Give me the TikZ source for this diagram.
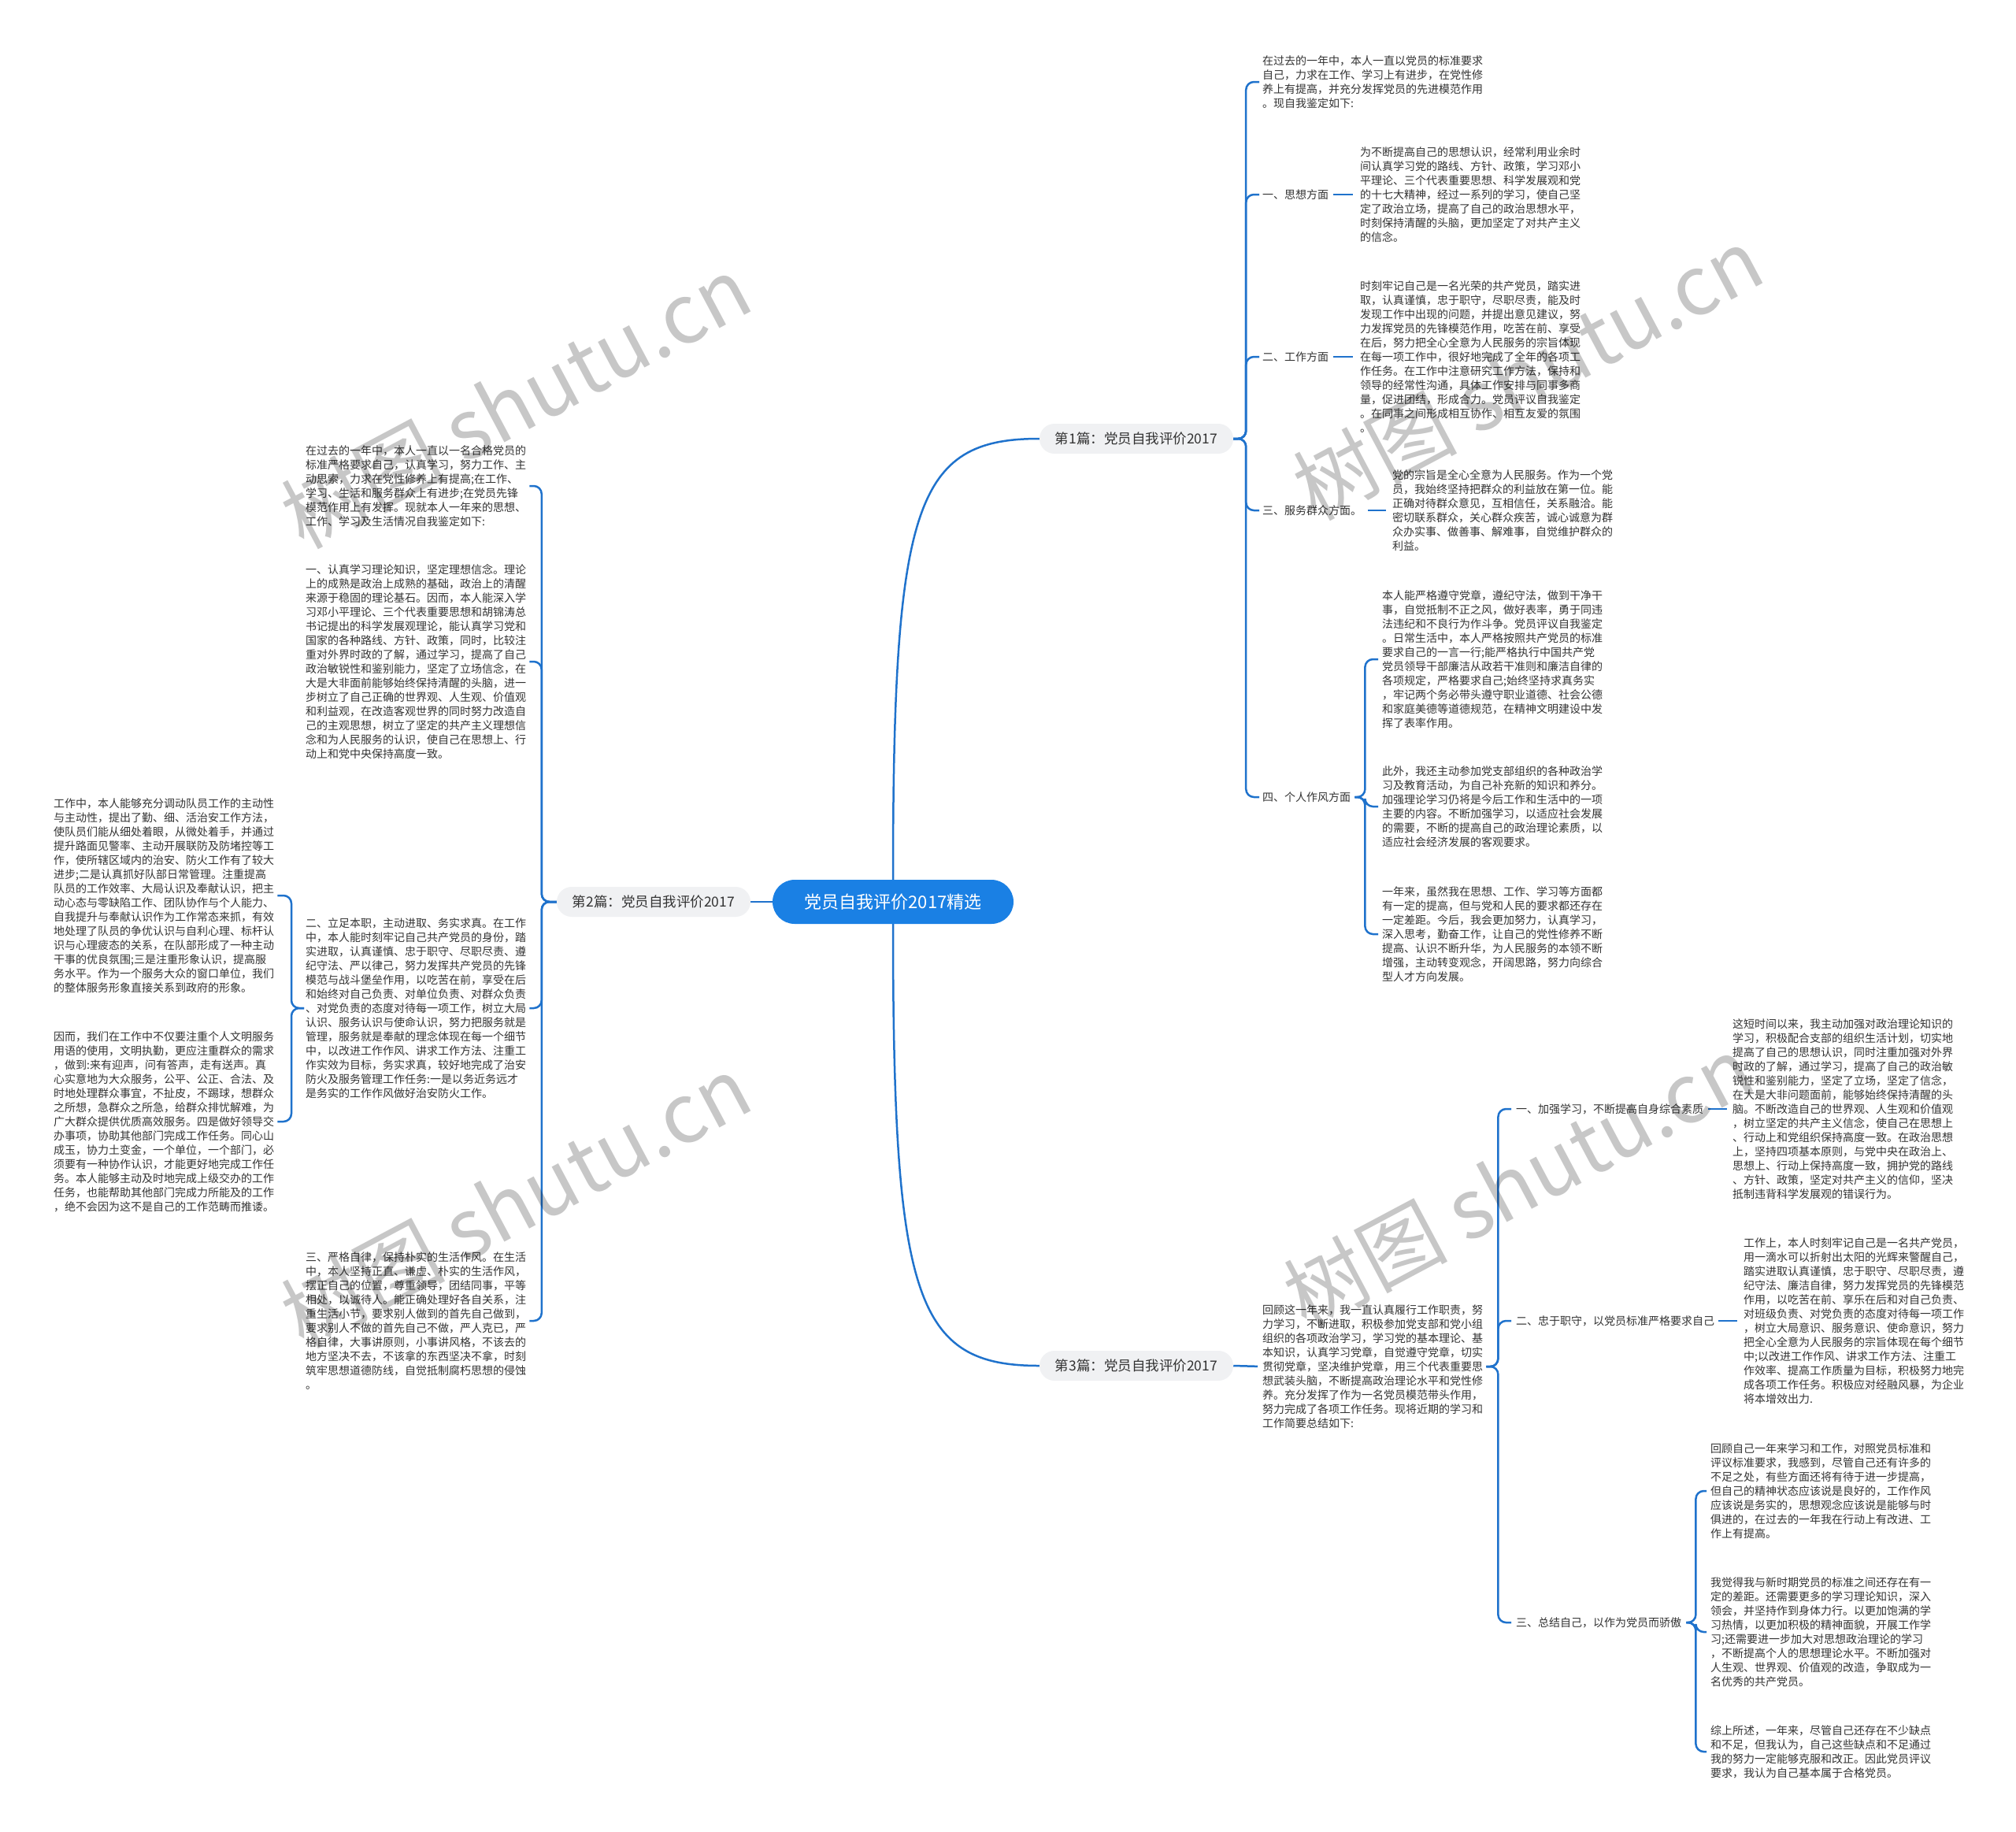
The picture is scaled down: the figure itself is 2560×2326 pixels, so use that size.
\documentclass[tikz,border=0pt]{standalone}
\usepackage{fontspec}
\setmainfont{Noto Sans CJK SC}
\usetikzlibrary{backgrounds}
\definecolor{linkblue}{HTML}{1F72CC}
\definecolor{mainblue}{HTML}{1A80E4}
\definecolor{txtgray}{HTML}{333333}
\definecolor{pillgray}{HTML}{F0F1F3}
\newcommand{\bodyfont}{\fontsize{14}{18}\selectfont}
\tikzset{
  mainnode/.style={fill=mainblue, text=white, rounded corners=28pt, minimum width=306pt, minimum height=56pt, inner sep=0pt, font=\fontsize{22}{26}\selectfont},
  pill/.style={fill=pillgray, text=txtgray, rounded corners=19pt, minimum height=38pt, inner xsep=20pt, inner ysep=0pt, font=\fontsize{17.5}{20}\selectfont},
  txt/.style={anchor=west, align=left, inner sep=0pt, text=txtgray, font=\bodyfont},
  lbl/.style={anchor=west, inner sep=0pt, text=txtgray, font=\bodyfont},
  conn/.style={draw=linkblue, line width=2.5pt, rounded corners=10pt},
  wmark/.style={text=black, opacity=0.22, rotate=28, font=\fontsize{104}{104}\selectfont}
}
\begin{document}
\begin{tikzpicture}[x=1pt,y=-1pt]
\useasboundingbox (0,0) rectangle (2560,2326);

% main and branch nodes
\node[mainnode] (c) at (1134,1145) {党员自我评价2017精选};
\node[pill] (b1) at (1443,557) {第1篇：党员自我评价2017};
\node[pill] (b2) at (830,1145) {第2篇：党员自我评价2017};
\node[pill] (b3) at (1443,1734) {第3篇：党员自我评价2017};

% ---------- branch 1 ----------
\node[txt] (t1i) at (1603,104) {在过去的一年中，本人一直以党员的标准要求\\自己，力求在工作、学习上有进步，在党性修\\养上有提高，并充分发挥党员的先进模范作用\\。现自我鉴定如下:};
\node[lbl] (l11) at (1603,247) {一、思想方面};
\node[txt] (t11) at (1727,247) {为不断提高自己的思想认识，经常利用业余时\\间认真学习党的路线、方针、政策，学习邓小\\平理论、三个代表重要思想、科学发展观和党\\的十七大精神，经过一系列的学习，使自己坚\\定了政治立场，提高了自己的政治思想水平，\\时刻保持清醒的头脑，更加坚定了对共产主义\\的信念。};
\node[lbl] (l12) at (1603,453) {二、工作方面};
\node[txt] (t12) at (1727,453) {时刻牢记自己是一名光荣的共产党员，踏实进\\取，认真谨慎，忠于职守，尽职尽责，能及时\\发现工作中出现的问题，并提出意见建议，努\\力发挥党员的先锋模范作用，吃苦在前、享受\\在后，努力把全心全意为人民服务的宗旨体现\\在每一项工作中，很好地完成了全年的各项工\\作任务。在工作中注意研究工作方法，保持和\\领导的经常性沟通，具体工作安排与同事多商\\量，促进团结，形成合力。党员评议自我鉴定\\。在同事之间形成相互协作、相互友爱的氛围\\。};
\node[lbl] (l13) at (1603,648) {三、服务群众方面。};
\node[txt] (t13) at (1768,648) {党的宗旨是全心全意为人民服务。作为一个党\\员，我始终坚持把群众的利益放在第一位。能\\正确对待群众意见，互相信任，关系融洽。能\\密切联系群众，关心群众疾苦，诚心诚意为群\\众办实事、做善事、解难事，自觉维护群众的\\利益。};
\node[lbl] (l14) at (1603,1012) {四、个人作风方面};
\node[txt] (t14a) at (1755,837) {本人能严格遵守党章，遵纪守法，做到干净干\\事，自觉抵制不正之风，做好表率，勇于同违\\法违纪和不良行为作斗争。党员评议自我鉴定\\。日常生活中，本人严格按照共产党员的标准\\要求自己的一言一行;能严格执行中国共产党\\党员领导干部廉洁从政若干准则和廉洁自律的\\各项规定，严格要求自己;始终坚持求真务实\\，牢记两个务必带头遵守职业道德、社会公德\\和家庭美德等道德规范，在精神文明建设中发\\挥了表率作用。};
\node[txt] (t14b) at (1755,1024) {此外，我还主动参加党支部组织的各种政治学\\习及教育活动，为自己补充新的知识和养分。\\加强理论学习仍将是今后工作和生活中的一项\\主要的内容。不断加强学习，以适应社会发展\\的需要，不断的提高自己的政治理论素质，以\\适应社会经济发展的客观要求。};
\node[txt] (t14c) at (1755,1186) {一年来，虽然我在思想、工作、学习等方面都\\有一定的提高，但与党和人民的要求都还存在\\一定差距。今后，我会更加努力，认真学习，\\深入思考，勤奋工作，让自己的党性修养不断\\提高、认识不断升华，为人民服务的本领不断\\增强，主动转变观念，开阔思路，努力向综合\\型人才方向发展。};

% ---------- branch 2 ----------
\node[txt] (t2a) at (388,617) {在过去的一年中，本人一直以一名合格党员的\\标准严格要求自己，认真学习，努力工作、主\\动思索，力求在党性修养上有提高;在工作、\\学习、生活和服务群众上有进步;在党员先锋\\模范作用上有发挥。现就本人一年来的思想、\\工作、学习及生活情况自我鉴定如下:};
\node[txt] (t2b) at (388,840) {一、认真学习理论知识，坚定理想信念。理论\\上的成熟是政治上成熟的基础，政治上的清醒\\来源于稳固的理论基石。因而，本人能深入学\\习邓小平理论、三个代表重要思想和胡锦涛总\\书记提出的科学发展观理论，能认真学习党和\\国家的各种路线、方针、政策，同时，比较注\\重对外界时政的了解，通过学习，提高了自己\\政治敏锐性和鉴别能力，坚定了立场信念，在\\大是大非面前能够始终保持清醒的头脑，进一\\步树立了自己正确的世界观、人生观、价值观\\和利益观，在改造客观世界的同时努力改造自\\己的主观思想，树立了坚定的共产主义理想信\\念和为人民服务的认识，使自己在思想上、行\\动上和党中央保持高度一致。};
\node[txt] (t2c) at (388,1280) {二、立足本职，主动进取、务实求真。在工作\\中，本人能时刻牢记自己共产党员的身份，踏\\实进取，认真谨慎、忠于职守、尽职尽责、遵\\纪守法、严以律己，努力发挥共产党员的先锋\\模范与战斗堡垒作用，以吃苦在前，享受在后\\和始终对自己负责、对单位负责、对群众负责\\、对党负责的态度对待每一项工作，树立大局\\认识、服务认识与使命认识，努力把服务就是\\管理，服务就是奉献的理念体现在每一个细节\\中，以改进工作作风、讲求工作方法、注重工\\作实效为目标，务实求真，较好地完成了治安\\防火及服务管理工作任务:一是以务近务远才\\是务实的工作作风做好治安防火工作。};
\node[txt] (t2d) at (388,1677) {三、严格自律，保持朴实的生活作风。在生活\\中，本人坚持正直、谦虚、朴实的生活作风，\\摆正自己的位置，尊重领导，团结同事，平等\\相处，以诚待人。能正确处理好各自关系，注\\重生活小节，要求别人做到的首先自己做到，\\要求别人不做的首先自己不做，严人克已，严\\格自律，大事讲原则，小事讲风格，不该去的\\地方坚决不去，不该拿的东西坚决不拿，时刻\\筑牢思想道德防线，自觉抵制腐朽思想的侵蚀\\。};
\node[txt] (f1) at (68,1137) {工作中，本人能够充分调动队员工作的主动性\\与主动性，提出了勤、细、活治安工作方法，\\使队员们能从细处着眼，从微处着手，并通过\\提升路面见警率、主动开展联防及防堵控等工\\作，使所辖区域内的治安、防火工作有了较大\\进步;二是认真抓好队部日常管理。注重提高\\队员的工作效率、大局认识及奉献认识，把主\\动心态与零缺陷工作、团队协作与个人能力、\\自我提升与奉献认识作为工作常态来抓，有效\\地处理了队员的争优认识与自利心理、标杆认\\识与心理疲态的关系，在队部形成了一种主动\\干事的优良氛围;三是注重形象认识，提高服\\务水平。作为一个服务大众的窗口单位，我们\\的整体服务形象直接关系到政府的形象。};
\node[txt] (f2) at (68,1424) {因而，我们在工作中不仅要注重个人文明服务\\用语的使用，文明执勤，更应注重群众的需求\\，做到:来有迎声，问有答声，走有送声。真\\心实意地为大众服务，公平、公正、合法、及\\时地处理群众事宜，不扯皮，不踢球，想群众\\之所想，急群众之所急，给群众排忧解难，为\\广大群众提供优质高效服务。四是做好领导交\\办事项，协助其他部门完成工作任务。同心山\\成玉，协力土变金，一个单位，一个部门，必\\须要有一种协作认识，才能更好地完成工作任\\务。本人能够主动及时地完成上级交办的工作\\任务，也能帮助其他部门完成力所能及的工作\\，绝不会因为这不是自己的工作范畴而推诿。};

% ---------- branch 3 ----------
\node[txt] (t3i) at (1603,1735) {回顾这一年来，我一直认真履行工作职责，努\\力学习，不断进取，积极参加党支部和党小组\\组织的各项政治学习，学习党的基本理论、基\\本知识，认真学习党章，自觉遵守党章，切实\\贯彻党章，坚决维护党章，用三个代表重要思\\想武装头脑，不断提高政治理论水平和党性修\\养。充分发挥了作为一名党员模范带头作用，\\努力完成了各项工作任务。现将近期的学习和\\工作简要总结如下:};
\node[lbl] (l31) at (1925,1408) {一、加强学习，不断提高自身综合素质};
\node[txt] (t31) at (2200,1408) {这短时间以来，我主动加强对政治理论知识的\\学习，积极配合支部的组织生活计划，切实地\\提高了自己的思想认识，同时注重加强对外界\\时政的了解，通过学习，提高了自己的政治敏\\锐性和鉴别能力，坚定了立场，坚定了信念，\\在大是大非问题面前，能够始终保持清醒的头\\脑。不断改造自己的世界观、人生观和价值观\\，树立坚定的共产主义信念，使自己在思想上\\、行动上和党组织保持高度一致。在政治思想\\上，坚持四项基本原则，与党中央在政治上、\\思想上、行动上保持高度一致，拥护党的路线\\、方针、政策，坚定对共产主义的信仰，坚决\\抵制违背科学发展观的错误行为。};
\node[lbl] (l32) at (1925,1677) {二、忠于职守，以党员标准严格要求自己};
\node[txt] (t32) at (2214,1677) {工作上，本人时刻牢记自己是一名共产党员，\\用一滴水可以折射出太阳的光辉来警醒自己，\\踏实进取认真谨慎，忠于职守、尽职尽责，遵\\纪守法、廉洁自律，努力发挥党员的先锋模范\\作用，以吃苦在前、享乐在后和对自己负责、\\对班级负责、对党负责的态度对待每一项工作\\，树立大局意识、服务意识、使命意识，努力\\把全心全意为人民服务的宗旨体现在每个细节\\中;以改进工作作风、讲求工作方法、注重工\\作效率、提高工作质量为目标，积极努力地完\\成各项工作任务。积极应对经融风暴，为企业\\将本增效出力.};
\node[lbl] (l33) at (1925,2060) {三、总结自己，以作为党员而骄傲};
\node[txt] (t33a) at (2172,1893) {回顾自己一年来学习和工作，对照党员标准和\\评议标准要求，我感到，尽管自己还有许多的\\不足之处，有些方面还将有待于进一步提高，\\但自己的精神状态应该说是良好的，工作作风\\应该说是务实的，思想观念应该说是能够与时\\俱进的，在过去的一年我在行动上有改进、工\\作上有提高。};
\node[txt] (t33b) at (2172,2072) {我觉得我与新时期党员的标准之间还存在有一\\定的差距。还需要更多的学习理论知识，深入\\领会，并坚持作到身体力行。以更加饱满的学\\习热情，以更加积极的精神面貌，开展工作学\\习;还需要进一步加大对思想政治理论的学习\\，不断提高个人的思想理论水平。不断加强对\\人生观、世界观、价值观的改造，争取成为一\\名优秀的共产党员。};
\node[txt] (t33c) at (2172,2224) {综上所述，一年来，尽管自己还存在不少缺点\\和不足，但我认为，自己这些缺点和不足通过\\我的努力一定能够克服和改正。因此党员评议\\要求，我认为自己基本属于合格党员。};

% ---------- connectors ----------
\begin{scope}[on background layer]
\fill[white] (0,0) rectangle (2560,2326);
\draw[conn] (c.north) .. controls (1134,640) and (1162,557) .. (b1.west);
\draw[conn] (c.south) .. controls (1134,1650) and (1162,1734) .. (b3.west);
\draw[conn] (c.west) -- (b2.east);
% branch 1
\foreach \k in {t1i,l11,l12,l13,l14}
  \draw[conn] (b1.east) -- ++(16,0) |- ([xshift=-4pt]\k.west);
\draw[conn, shorten <=6pt, shorten >=9pt] (l11.east) -- (t11.west);
\draw[conn, shorten <=6pt, shorten >=9pt] (l12.east) -- (t12.west);
\draw[conn, shorten <=8pt, shorten >=8pt] (l13.east) -- (t13.west);
\foreach \k in {t14a,t14b,t14c}
  \draw[conn] ([xshift=5pt]l14.east) -- ++(13,0) |- ([xshift=-5pt]\k.west);
% branch 2
\foreach \k in {t2a,t2b,t2c,t2d}
  \draw[conn] (b2.west) -- ++(-19,0) |- ([xshift=4pt]\k.east);
\foreach \k in {f1,f2}
  \draw[conn] ([xshift=-2pt]t2c.west) -- ++(-16,0) |- ([xshift=4pt]\k.east);
% branch 3
\draw[conn, shorten >=6pt] (b3.east) -- (t3i.west);
\foreach \k in {l31,l32,l33}
  \draw[conn] ([xshift=4pt]t3i.east) -- ++(15,0) |- ([xshift=-6pt]\k.west);
\draw[conn, shorten <=6pt, shorten >=7pt] (l31.east) -- (t31.west);
\draw[conn, shorten <=5pt, shorten >=8pt] (l32.east) -- (t32.west);
\foreach \k in {t33a,t33b,t33c}
  \draw[conn] ([xshift=6pt]l33.east) -- ++(12,0) |- ([xshift=-5pt]\k.west);
\end{scope}

% ---------- watermarks ----------
\node[wmark] (w1) at (655,510) {树图 shutu.cn};
\node[wmark] (w2) at (1940,474) {树图 shutu.cn};
\node[wmark] (w3) at (655,1525) {树图 shutu.cn};
\node[wmark] (w4) at (1928,1500) {树图 shutu.cn};
\end{tikzpicture}
\end{document}
